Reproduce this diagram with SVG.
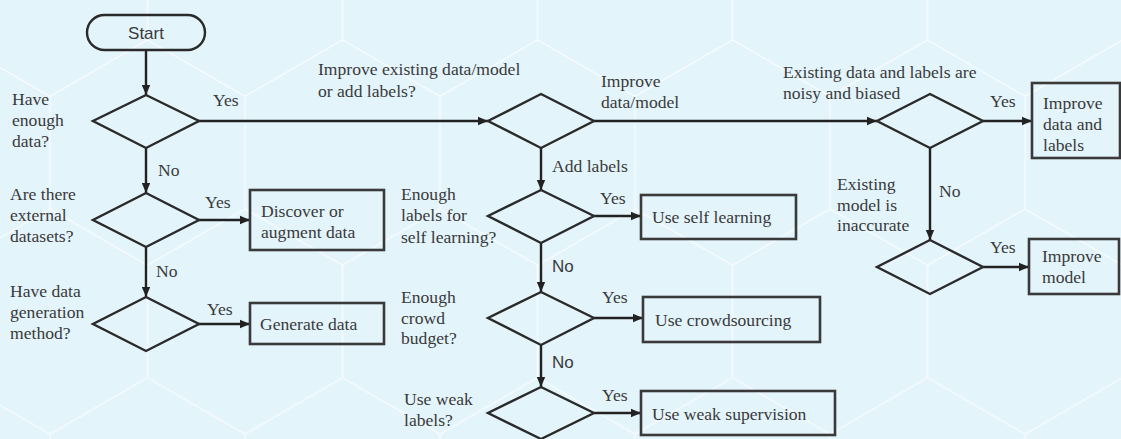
<svg xmlns="http://www.w3.org/2000/svg" width="1121" height="439" viewBox="0 0 1121 439">
<defs>
<style>
.t{font-family:'Liberation Serif','Times New Roman',Times,serif;font-size:17.6px;fill:#3a3a3a}
.s{font-family:'Liberation Sans',Arial,sans-serif;font-size:17px;fill:#3a3a3a}
.n{fill:none;stroke:#2a2a2a;stroke-width:2.4}
.b{fill:none;stroke:#3a3a3a;stroke-width:2.6}
.c{fill:none;stroke:#222;stroke-width:2.4}
</style>
<marker id="ah" viewBox="0 0 10 10" refX="10" refY="5" markerWidth="10" markerHeight="10" markerUnits="userSpaceOnUse" orient="auto">
<path d="M0,0.8 L10,5 L0,9.2 Z" fill="#222"/>
</marker>
<pattern id="hex" patternUnits="userSpaceOnUse" x="147.5" y="40" width="195" height="337.75">
<path d="M0,0 L97.5,56.3 L195,0 M97.5,56.3 L97.5,168.9 L0,225.2 M97.5,168.9 L195,225.2 M0,225.2 L0,337.75 M195,225.2 L195,337.75" fill="none" stroke="#ffffff" stroke-width="1.5" stroke-opacity="0.7"/>
</pattern>
</defs>
<rect width="1121" height="439" fill="#e3f4fb"/>
<rect width="1121" height="439" fill="url(#hex)"/>

<g id="connectors">
<path class="c" d="M146,50 V95" marker-end="url(#ah)"/>
<path class="c" d="M198,121 H488" marker-end="url(#ah)"/>
<path class="c" d="M146,148 V193" marker-end="url(#ah)"/>
<path class="c" d="M198,220 H250" marker-end="url(#ah)"/>
<path class="c" d="M146,247 V297" marker-end="url(#ah)"/>
<path class="c" d="M198,324 H250" marker-end="url(#ah)"/>
<path class="c" d="M594,121 H877" marker-end="url(#ah)"/>
<path class="c" d="M983,121 H1032" marker-end="url(#ah)"/>
<path class="c" d="M930,148 V240" marker-end="url(#ah)"/>
<path class="c" d="M983,267 H1029" marker-end="url(#ah)"/>
<path class="c" d="M541,148 V190" marker-end="url(#ah)"/>
<path class="c" d="M594,216 H641" marker-end="url(#ah)"/>
<path class="c" d="M541,243 V292" marker-end="url(#ah)"/>
<path class="c" d="M594,318 H643" marker-end="url(#ah)"/>
<path class="c" d="M541,345 V387" marker-end="url(#ah)"/>
<path class="c" d="M594,413 H641" marker-end="url(#ah)"/>
<text class="t" x="213" y="106">Yes</text>
<text class="t" x="158" y="176">No</text>
<text class="t" x="205" y="208">Yes</text>
<text class="t" x="156" y="277">No</text>
<text class="t" x="207" y="315">Yes</text>
<text class="t" x="552" y="172">Add labels</text>
<text class="t" x="600" y="204">Yes</text>
<text class="s" x="552" y="272">No</text>
<text class="t" x="602" y="303">Yes</text>
<text class="s" x="552" y="368">No</text>
<text class="t" x="602" y="401">Yes</text>
<text class="t" x="601" y="87">Improve</text>
<text class="t" x="601" y="108">data/model</text>
<text class="t" x="990" y="107">Yes</text>
<text class="t" x="939" y="197">No</text>
<text class="t" x="990" y="253">Yes</text>
</g>

<g id="start">
<rect class="n" x="87" y="15" width="118" height="35" rx="17.5"/>
<text class="s" x="146" y="39" text-anchor="middle">Start</text>
</g>

<g id="d-enough-data">
<path class="n" d="M146,95 L199,121 L146,148 L93,121 Z"/>
<text class="t" x="12" y="105">Have</text>
<text class="t" x="12" y="126">enough</text>
<text class="t" x="12" y="147">data?</text>
</g>

<g id="d-external">
<path class="n" d="M146,193 L199,220 L146,247 L93,220 Z"/>
<text class="t" x="10" y="200">Are there</text>
<text class="t" x="10" y="221">external</text>
<text class="t" x="10" y="242">datasets?</text>
</g>

<g id="d-generation">
<path class="n" d="M146,297 L199,324 L146,351 L93,324 Z"/>
<text class="t" x="10" y="297">Have data</text>
<text class="t" x="10" y="318">generation</text>
<text class="t" x="10" y="339">method?</text>
</g>

<g id="b-discover">
<rect class="b" x="250" y="190" width="134" height="60"/>
<text class="t" x="261" y="217">Discover or</text>
<text class="t" x="261" y="238">augment data</text>
</g>

<g id="b-generate">
<rect class="b" x="250" y="303" width="134" height="41"/>
<text class="t" x="260" y="330">Generate data</text>
</g>

<g id="d-improve-or-add">
<path class="n" d="M541,94 L594,121 L541,148 L488,121 Z"/>
<text class="t" x="318" y="75">Improve existing data/model</text>
<text class="t" x="318" y="97">or add labels?</text>
</g>

<g id="d-self">
<path class="n" d="M541,190 L594,216 L541,243 L488,216 Z"/>
<text class="t" x="401" y="200">Enough</text>
<text class="t" x="401" y="221">labels for</text>
<text class="t" x="401" y="243">self learning?</text>
</g>

<g id="b-self">
<rect class="b" x="641" y="195" width="155" height="44"/>
<text class="t" x="652" y="223">Use self learning</text>
</g>

<g id="d-crowd">
<path class="n" d="M541,292 L594,318 L541,345 L488,318 Z"/>
<text class="t" x="401" y="303">Enough</text>
<text class="t" x="401" y="324">crowd</text>
<text class="t" x="401" y="344">budget?</text>
</g>

<g id="b-crowd">
<rect class="b" x="643" y="297" width="177" height="45"/>
<text class="t" x="655" y="326">Use crowdsourcing</text>
</g>

<g id="d-weak">
<path class="n" d="M541,387 L594,413 L541,439 L488,413 Z"/>
<text class="t" x="404" y="405">Use weak</text>
<text class="t" x="404" y="426">labels?</text>
</g>

<g id="b-weak">
<rect class="b" x="641" y="391" width="194" height="44"/>
<text class="t" x="652" y="420">Use weak supervision</text>
</g>

<g id="d-noisy">
<path class="n" d="M930,94 L983,121 L930,148 L877,121 Z"/>
<text class="t" x="783" y="78">Existing data and labels are</text>
<text class="t" x="783" y="99">noisy and biased</text>
</g>

<g id="b-improve-data">
<rect class="b" x="1032" y="83" width="88" height="75"/>
<text class="t" x="1043" y="109">Improve</text>
<text class="t" x="1043" y="130">data and</text>
<text class="t" x="1043" y="151">labels</text>
</g>

<g id="d-inaccurate">
<path class="n" d="M930,240 L983,267 L930,294 L877,267 Z"/>
<text class="t" x="837" y="190">Existing</text>
<text class="t" x="837" y="211">model is</text>
<text class="t" x="837" y="231">inaccurate</text>
</g>

<g id="b-improve-model">
<rect class="b" x="1029" y="239" width="90" height="55"/>
<text class="t" x="1042" y="262">Improve</text>
<text class="t" x="1042" y="283">model</text>
</g>
</svg>
